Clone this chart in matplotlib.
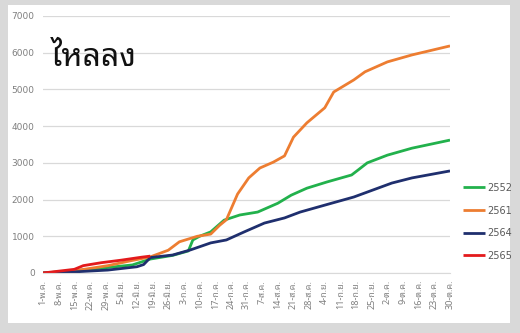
import matplotlib
matplotlib.use("Agg")
import matplotlib.pyplot as plt
from matplotlib.patches import Rectangle

# ---- data (day offset from 1 May, cumulative value) ----
tick_labels = ["1-พ.ค.", "8-พ.ค.", "15-พ.ค.", "22-พ.ค.", "29-พ.ค.", "5-มิ.ย.", "12-มิ.ย.",
               "19-มิ.ย.", "26-มิ.ย.", "3-ก.ค.", "10-ก.ค.", "17-ก.ค.", "24-ก.ค.", "31-ก.ค.",
               "7-ส.ค.", "14-ส.ค.", "21-ส.ค.", "28-ส.ค.", "4-ก.ย.", "11-ก.ย.", "18-ก.ย.",
               "25-ก.ย.", "2-ต.ค.", "9-ต.ค.", "16-ต.ค.", "23-ต.ค.", "30-ต.ค."]
tick_days = [7 * i for i in range(len(tick_labels))]

days_2552 = [0, 14, 29, 40, 48, 58, 65, 67, 70, 75, 81, 88, 96, 105, 111, 118, 127, 138, 141, 145, 154, 165, 182]
vals_2552 = [0, 60, 150, 220, 380, 480, 600, 900, 1000, 1120, 1440, 1580, 1660, 1900, 2120, 2310, 2480, 2670, 2810, 3000, 3210, 3400, 3620]

days_2561 = [0, 14, 29, 39, 48, 56, 61, 69, 75, 79, 82, 87, 92, 97, 103, 108, 112, 118, 126, 130, 139, 144, 154, 165, 182]
vals_2561 = [0, 60, 200, 330, 440, 620, 850, 1000, 1060, 1300, 1450, 2150, 2590, 2860, 3020, 3190, 3700, 4090, 4500, 4930, 5260, 5480, 5750, 5940, 6185]

days_2564 = [0, 14, 29, 42, 45, 48, 58, 66, 75, 82, 90, 99, 108, 115, 129, 139, 156, 165, 182]
vals_2564 = [0, 30, 80, 170, 230, 420, 490, 630, 820, 900, 1120, 1360, 1500, 1660, 1900, 2070, 2450, 2590, 2780]

days_2565 = [0, 14, 18, 26, 35, 44, 48]
vals_2565 = [0, 100, 200, 280, 350, 430, 460]

series = [("2552", days_2552, vals_2552, "#22b14c"),
          ("2561", days_2561, vals_2561, "#ed7d31"),
          ("2564", days_2564, vals_2564, "#1f2f6e"),
          ("2565", days_2565, vals_2565, "#e31a1c")]

thai = ["Noto Sans Thai Looped", "DejaVu Sans"]

fig = plt.figure(figsize=(5.2, 3.33), dpi=100)
W, H = 520, 333
fig.patch.set_facecolor("#d9d9d9")
fig.add_artist(Rectangle((8 / W, 1 - 323 / H), (510 - 8) / W, (323 - 5) / H,
                         transform=fig.transFigure, facecolor="white", edgecolor="none", zorder=0))

ax = fig.add_axes([43 / W, 1 - 273 / H, (450 - 43) / W, (273 - 16) / H])
ax.set_facecolor("none")
for name, d, v, c in series:
    ax.plot(d, v, color=c, lw=2.0, label=name, solid_capstyle="butt")

ax.set_xlim(0, 182)
ax.set_ylim(0, 7000)
ax.set_yticks(range(0, 7001, 1000))
ax.set_xticks(tick_days)
ax.set_xticklabels(tick_labels, rotation=90, fontsize=6.5, color="#7f7f7f", family=thai)
ax.tick_params(axis="y", labelsize=6.5, labelcolor="#7f7f7f", length=0, pad=6)
ax.tick_params(axis="x", length=0, pad=5)
ax.grid(axis="y", color="#d9d9d9", lw=0.9)
for s in ["top", "right", "left"]:
    ax.spines[s].set_visible(False)
ax.spines["bottom"].set_color("#d9d9d9")
ax.set_axisbelow(True)

fig.text(51 / W, 1 - 58 / H, "ไหลลง", fontsize=23, family=thai, va="center", ha="left", color="#111111")

leg = fig.legend(loc="upper left", bbox_to_anchor=(458 / W, 1 - 178 / H), frameon=False,
                 fontsize=7, handlelength=2.3, labelspacing=1.3, handletextpad=0.2,
                 borderpad=0)
for t in leg.get_texts():
    t.set_color("#595959")

fig.savefig("out.png", dpi=100, facecolor=fig.get_facecolor())
